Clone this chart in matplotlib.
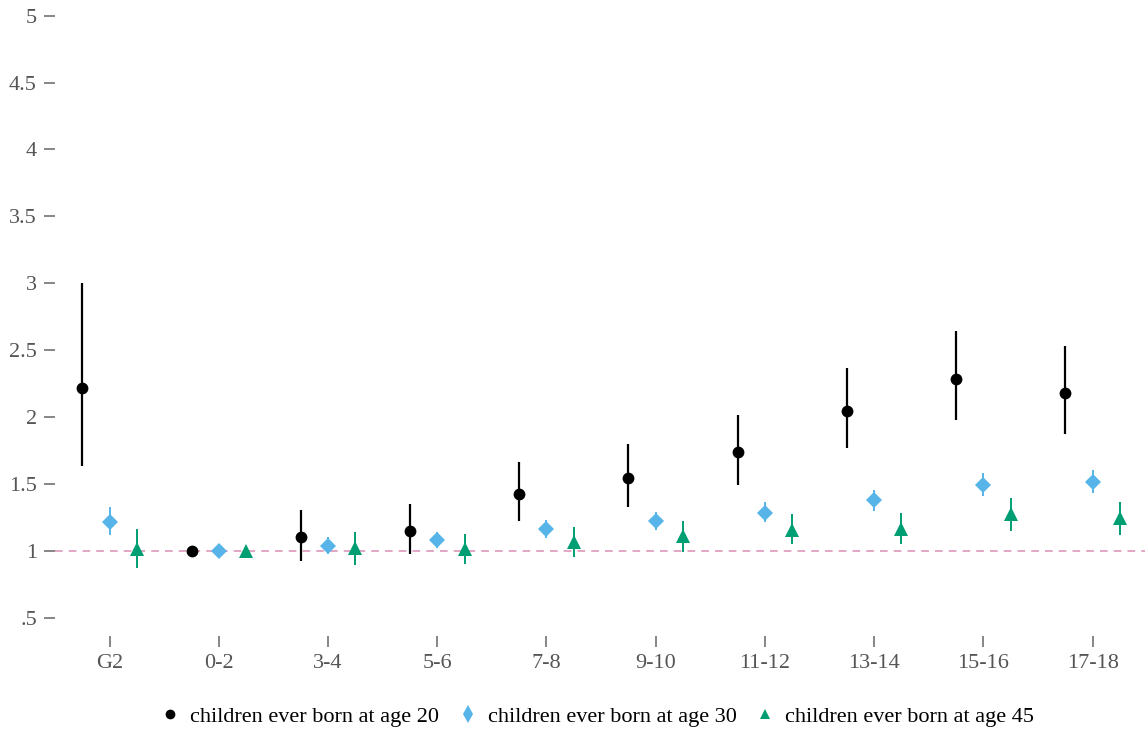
import matplotlib
matplotlib.use("Agg")
import matplotlib.pyplot as plt
import numpy as np

plt.rcParams['font.family'] = ['Liberation Serif', 'DejaVu Serif']

groups = ['G2', '0-2', '3-4', '5-6', '7-8', '9-10', '11-12', '13-14', '15-16', '17-18']

# children ever born at age 20
cb20 = [2.22, 1.00, 1.105, 1.15, 1.427, 1.546, 1.74, 2.047, 2.286, 2.18]
cb20_lo = [1.636, 1.00, 0.925, 0.98, 1.224, 1.33, 1.493, 1.77, 1.98, 1.875]
cb20_hi = [3.004, 1.00, 1.307, 1.35, 1.665, 1.80, 2.017, 2.368, 2.645, 2.53]

# children ever born at age 30
cb30 = [1.217, 1.00, 1.037, 1.082, 1.164, 1.224, 1.284, 1.38, 1.49, 1.516]
cb30_lo = [1.12, 1.00, 0.98, 1.02, 1.10, 1.157, 1.217, 1.30, 1.41, 1.43]
cb30_hi = [1.33, 1.00, 1.105, 1.14, 1.23, 1.29, 1.366, 1.456, 1.58, 1.605]

# children ever born at age 45
cb45 = [1.015, 1.00, 1.02, 1.015, 1.07, 1.11, 1.157, 1.165, 1.277, 1.247]
cb45_lo = [0.875, 1.00, 0.895, 0.90, 0.955, 0.995, 1.05, 1.05, 1.15, 1.12]
cb45_hi = [1.165, 1.00, 1.14, 1.127, 1.18, 1.22, 1.277, 1.28, 1.397, 1.366]

# label, values, ci, colour, marker, size, bar width, legend marker, legend size
series = [
    ("children ever born at age 20", cb20, cb20_lo, cb20_hi, 'black', 'o', 8.5, 1.6, 'o', 7),
    ("children ever born at age 30", cb30, cb30_lo, cb30_hi, '#56B4E9', 'D', 8.5, 1.4, 'd', 9),
    ("children ever born at age 45", cb45, cb45_lo, cb45_hi, '#009E73', '^', 10.5, 1.4, '^', 7),
]

fig = plt.figure(figsize=(11.45, 7.33), dpi=100)
ax = fig.add_axes([55 / 1145, 97 / 733, 1090 / 1145, 627 / 733])

x = np.arange(len(groups))
offsets = [-0.25, 0.0, 0.25]
handles = []
for (label, v, lo, hi, col, mk, ms, lw, lmk, lms), off in zip(series, offsets):
    v = np.array(v)
    err = [v - np.array(lo), np.array(hi) - v]
    ax.errorbar(x + off, v, yerr=err, fmt='none', ecolor=col, elinewidth=lw, capsize=0, zorder=2)
    ax.plot(x + off, v, linestyle='none', marker=mk, color=col, markersize=ms,
            markeredgewidth=0, zorder=3)
    handles.append(plt.Line2D([], [], linestyle='none', marker=lmk, color=col,
                              markersize=lms, markeredgewidth=0, label=label))

ax.axhline(1, color='#d98fb5', linestyle=(0, (5, 4)), linewidth=1.1, zorder=1)

ax.set_xlim(-0.5, 9.48)
ax.set_ylim(0.364, 5.05)
ax.set_xticks(x)
ax.set_xticklabels(groups)
ax.set_yticks([0.5, 1, 1.5, 2, 2.5, 3, 3.5, 4, 4.5, 5])
ax.set_yticklabels(['.5', '1', '1.5', '2', '2.5', '3', '3.5', '4', '4.5', '5'])
ax.tick_params(axis='both', colors='#666666', labelcolor='#555555', labelsize=16,
               length=8, width=1.1, direction='out')
ax.tick_params(axis='x', pad=5)
ax.tick_params(axis='y', pad=5)
for s in ax.spines.values():
    s.set_visible(False)

fig.legend(handles=handles, loc='center', bbox_to_anchor=(0.522, 1 - 717 / 733), ncol=3,
           frameon=False, fontsize=16, handlelength=0.8, handletextpad=0.5, columnspacing=0.9)

fig.savefig('out.png', dpi=100)
